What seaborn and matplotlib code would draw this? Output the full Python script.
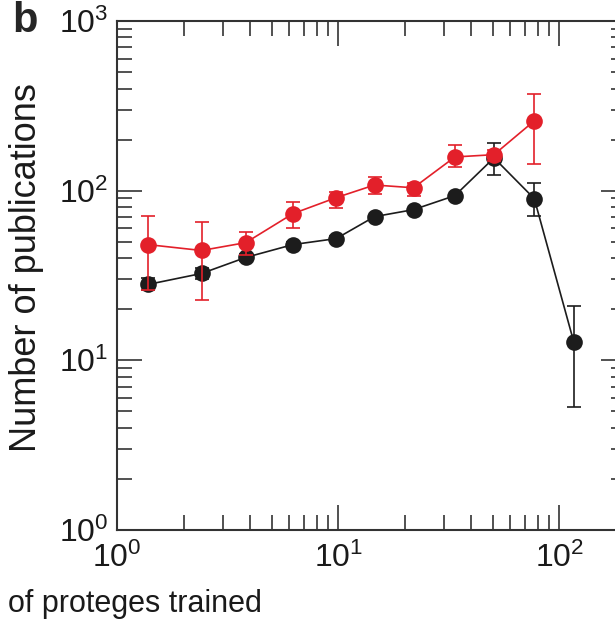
import numpy as np
import pandas as pd
import matplotlib
matplotlib.use("Agg")
import matplotlib.pyplot as plt
import seaborn as sns

# values (log-log)
x_black = [1.38, 2.41, 3.82, 6.24, 9.8, 14.6, 21.9, 33.7, 50.6, 77, 116]
y_black = [28.0, 32.5, 40.4, 48.1, 52.2, 70.3, 77.3, 93.5, 156, 89.7, 12.9]
black_lo = [25.8, 30.0, 38.5, 46.5, 50.5, 68.5, 75.5, 91, 124, 71.3, 5.3]
black_hi = [30.5, 35.0, 42.5, 50, 54, 72, 79.5, 96, 192, 111, 20.8]

x_red = [1.38, 2.41, 3.82, 6.24, 9.8, 14.6, 21.9, 33.7, 50.6, 77]
y_red = [48.1, 44.4, 49.4, 73.2, 91, 108, 104, 158, 163, 258]
red_lo = [25.8, 22.8, 42.0, 60.6, 79.4, 96, 93.5, 137, 150, 144]
red_hi = [71.3, 65.7, 57.4, 86.1, 98.6, 121, 111, 186, 174, 372]

black = "#1c1c1c"
red = "#e3202a"

sns.set_style("ticks")
plt.rcParams['font.family'] = ['Liberation Sans', 'DejaVu Sans']
plt.rcParams['mathtext.default'] = 'regular'

fig = plt.figure(figsize=(6.15, 6.26), dpi=100)
ax = fig.add_axes([117 / 615, 96 / 626, 509 / 615, 509 / 626])

df_black = pd.DataFrame({'x': x_black, 'y': y_black})
df_red = pd.DataFrame({'x': x_red, 'y': y_red})

#Black series with error bars
ax.errorbar(x_black, y_black,
            yerr=[np.array(y_black) - np.array(black_lo), np.array(black_hi) - np.array(y_black)],
            fmt='none', ecolor=black, elinewidth=1.2, capsize=5, capthick=1.2, zorder=2)
sns.lineplot(data=df_black, x='x', y='y', color=black, marker='o', markersize=12,
             markeredgewidth=0, linewidth=1.2, ax=ax, zorder=3)

#Red series with error bars
ax.errorbar(x_red, y_red,
            yerr=[np.array(y_red) - np.array(red_lo), np.array(red_hi) - np.array(y_red)],
            fmt='none', ecolor=red, elinewidth=1.2, capsize=5, capthick=1.2, zorder=4)
sns.lineplot(data=df_red, x='x', y='y', color=red, marker='o', markersize=12,
             markeredgewidth=0, linewidth=1.2, ax=ax, zorder=5)

ax.set_xscale('log')
ax.set_yscale('log')
ax.set_xlim(1, 200)
ax.set_ylim(1, 1000)

for s in ax.spines.values():
    s.set_linewidth(1.5)
    s.set_color('#333333')
    s.set_visible(True)

ax.tick_params(which='both', direction='in', top=True, right=True, colors='#333333',
               labelcolor='#1a1a1a', labelsize=23)
ax.tick_params(which='major', length=18, width=1.2)
ax.tick_params(which='minor', length=10.5, width=1.2)
ax.tick_params(axis='y', which='major', pad=6)
ax.tick_params(axis='x', which='major', pad=9)

ax.set_ylabel("Number of publications", fontsize=26, color='#1a1a1a')
ax.yaxis.label.set_va('center')
ax.yaxis.set_label_coords((27 - 117) / 509, (530 - 268) / 509)

# the panel is cropped: only the tail of the x label is visible
ax.set_xlabel("of proteges trained", fontsize=22, color='#1a1a1a')
ax.xaxis.label.set_ha('left')
ax.xaxis.label.set_va('baseline')
ax.xaxis.set_label_coords((8 - 117) / 509, (530 - 612) / 509)

fig.text(12 / 615, 1 - 32 / 626, 'b', fontsize=30, fontweight='bold', va='baseline', ha='left')

plt.savefig("out.png", dpi=100)
